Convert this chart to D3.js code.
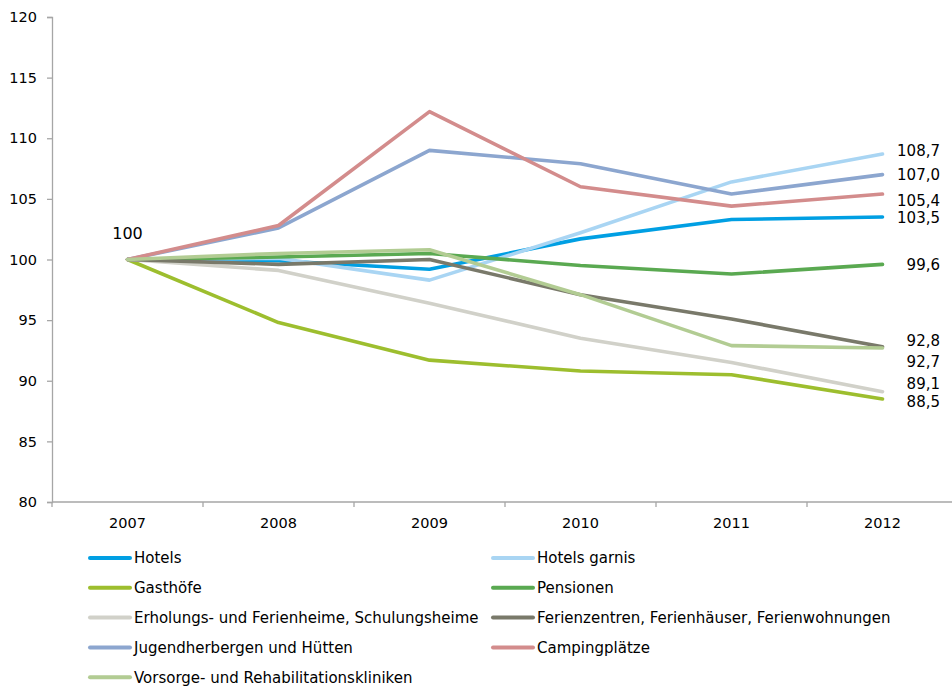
<!DOCTYPE html>
<html>
<head>
<meta charset="utf-8">
<script src="https://cdn.jsdelivr.net/npm/d3@7"></script>
<style>
  html, body { margin: 0; padding: 0; background: #fff; }
  svg { display: block; font-family: "DejaVu Sans", Verdana, sans-serif; }
</style>
</head>
<body>
<svg id="chart" width="952" height="686"></svg>
<script>
// ---- data ----
const years = ["2007", "2008", "2009", "2010", "2011", "2012"];
const seriesNames = [
  "Hotels", "Hotels garnis", "Gasthöfe", "Pensionen",
  "Erholungs- und Ferienheime, Schulungsheime",
  "Ferienzentren, Ferienhäuser, Ferienwohnungen",
  "Jugendherbergen und Hütten", "Campingplätze",
  "Vorsorge- und Rehabilitationskliniken"
];
const hotels        = [100, 99.9, 99.2, 101.7, 103.3, 103.5];
const hotelsGarnis  = [100, 100.1, 98.3, 102.2, 106.4, 108.7];
const gasthoefe     = [100, 94.8, 91.7, 90.8, 90.5, 88.5];
const pensionen     = [100, 100.2, 100.5, 99.5, 98.8, 99.6];
const erholung      = [100, 99.1, 96.4, 93.5, 91.5, 89.1];
const ferienzentren = [100, 99.6, 100.0, 97.1, 95.1, 92.8];
const jugend        = [100, 102.6, 109.0, 107.9, 105.4, 107.0];
const camping       = [100, 102.8, 112.2, 106.0, 104.4, 105.4];
const vorsorge      = [100, 100.5, 100.8, 97.1, 92.9, 92.7];
const seriesValues = [hotels, hotelsGarnis, gasthoefe, pensionen, erholung,
                      ferienzentren, jugend, camping, vorsorge];
const seriesColors = ["#009fe3", "#a9d5f3", "#9dbe2e", "#5aa951", "#d1d1c9",
                      "#79796a", "#8ca6cf", "#d38c8c", "#b2cc93"];
// end labels (text) and their label anchor values (data units, de-overlapped)
const endLabels    = ["108,7", "107,0", "105,4", "103,5", "99,6", "92,8", "92,7", "89,1", "88,5"];
const endLabelAt   = [109.0, 107.05, 104.9, 103.45, 99.55, 93.3, 91.55, 89.75, 88.25];
const startLabel = "100";
const yTicks = [80, 85, 90, 95, 100, 105, 110, 115, 120];

// ---- layout ----
const svg = d3.select("#chart");
const axisColor = "#a6a6a6";
const x = d3.scaleBand().domain(years).range([52, 958]).paddingInner(0).paddingOuter(0);
const xc = d => x(d) + x.bandwidth() / 2;
const y = d3.scaleLinear().domain([80, 120]).range([502, 17]);

// y axis
const yAxis = svg.append("g").attr("transform", "translate(52,0)")
  .call(d3.axisLeft(y).tickValues(yTicks).tickSize(5).tickPadding(10).tickFormat(d3.format("d")));
yAxis.select(".domain").attr("stroke", axisColor).attr("stroke-width", 1.3);
yAxis.selectAll(".tick line").attr("stroke", axisColor).attr("stroke-width", 1.3);
yAxis.selectAll(".tick text").attr("font-size", "14.5px").attr("fill", "#000")
  .attr("font-family", "DejaVu Sans, Verdana, sans-serif");

// x axis (category boundaries as ticks, labels centered in bands)
const xAxisG = svg.append("g");
xAxisG.append("line").attr("x1", 52).attr("x2", 958).attr("y1", y(80)).attr("y2", y(80))
  .attr("stroke", axisColor).attr("stroke-width", 1.3);
const bounds = years.map(d => x(d)).concat([x(years[years.length - 1]) + x.bandwidth()]);
xAxisG.selectAll("line.tk").data(bounds).enter().append("line").attr("class", "tk")
  .attr("x1", d => d).attr("x2", d => d).attr("y1", y(80)).attr("y2", y(80) + 5)
  .attr("stroke", axisColor).attr("stroke-width", 1.3);
xAxisG.selectAll("text").data(years).enter().append("text")
  .attr("x", d => xc(d)).attr("y", y(80) + 26).attr("text-anchor", "middle")
  .attr("font-size", "14.5px").attr("fill", "#000").text(d => d);

// lines
const line = d3.line().x((d, i) => xc(years[i])).y(d => y(d));
svg.append("g").selectAll("path").data(seriesValues).enter().append("path")
  .attr("d", d => line(d)).attr("fill", "none")
  .attr("stroke", (d, i) => seriesColors[i]).attr("stroke-width", 3.6)
  .attr("stroke-linejoin", "round").attr("stroke-linecap", "round");

// start label
svg.append("text").attr("x", xc(years[0])).attr("y", y(100) - 21)
  .attr("text-anchor", "middle").attr("font-size", "16px").attr("fill", "#000").text(startLabel);

// end labels
svg.append("g").selectAll("text").data(endLabels).enter().append("text")
  .attr("x", 940).attr("y", (d, i) => y(endLabelAt[i]) + 5.5)
  .attr("text-anchor", "end").attr("font-size", "15px").attr("fill", "#000").text(d => d);

// legend
const legend = svg.append("g");
seriesNames.forEach((name, i) => {
  const col = i % 2, row = Math.floor(i / 2);
  const lx = col === 0 ? 90 : 493;
  const ly = 558 + row * 29.8;
  legend.append("line").attr("x1", lx).attr("x2", lx + 40).attr("y1", ly).attr("y2", ly)
    .attr("stroke", seriesColors[i]).attr("stroke-width", 4).attr("stroke-linecap", "round");
  legend.append("text").attr("x", lx + 44).attr("y", ly + 5.3)
    .attr("font-size", "15px").attr("fill", "#000").text(name);
});
</script>
</body>
</html>
